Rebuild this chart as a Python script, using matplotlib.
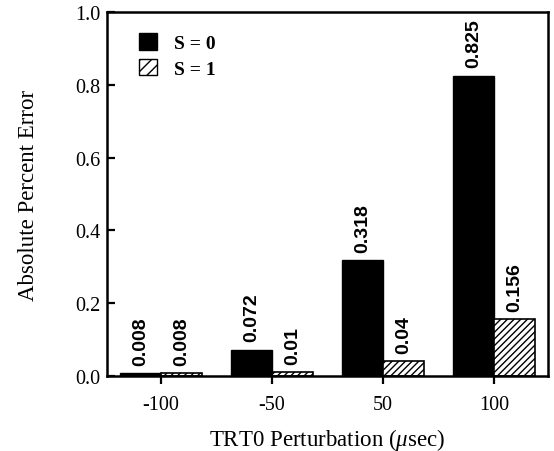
import matplotlib
matplotlib.use("Agg")
import matplotlib.pyplot as plt
import numpy as np
from matplotlib.patches import Patch

categories = ["-100", "-50", "50", "100"]
s0_values = [0.008, 0.072, 0.318, 0.825]
s1_values = [0.008, 0.01, 0.04, 0.156]
s0_labels = ["0.008", "0.072", "0.318", "0.825"]
s1_labels = ["0.008", "0.01", "0.04", "0.156"]

plt.rcParams["font.family"] = ["Liberation Serif", "DejaVu Serif"]
plt.rcParams["mathtext.fontset"] = "custom"
plt.rcParams["mathtext.it"] = "Liberation Serif:italic"
plt.rcParams["hatch.linewidth"] = 1.0

fig = plt.figure(figsize=(5.54, 4.52), dpi=100)
ax = fig.add_axes([107 / 554, 1 - 377 / 452, 441 / 554, 364 / 452])

x = np.arange(len(categories))
width = 0.37
bars0 = ax.bar(x - width / 2, s0_values, width, color="black", edgecolor="black")
bars1 = ax.bar(x + width / 2, s1_values, width, color="white", edgecolor="black",
               hatch="/////", linewidth=1.2)

# value labels, rotated, above each bar
label_font = {"family": ["Liberation Sans Narrow", "Liberation Sans"],
              "weight": "bold", "size": 14}
for bars, labels in ((bars0, s0_labels), (bars1, s1_labels)):
    for bar, lab in zip(bars, labels):
        ax.annotate(lab, (bar.get_x() + bar.get_width() / 2, bar.get_height()),
                    xytext=(0, 6), textcoords="offset points", rotation=90,
                    ha="center", va="bottom", **label_font)

ax.set_xlim(-0.486, 3.486)
ax.set_ylim(0, 1.0)
ax.set_xticks(x)
ax.set_xticklabels(categories)
ax.set_yticks([0.0, 0.2, 0.4, 0.6, 0.8, 1.0])
ax.set_yticklabels(["0.0", "0.2", "0.4", "0.6", "0.8", "1.0"])
ax.tick_params(axis="x", direction="out", length=6, width=1.6, pad=8,
               labelsize=14.5)
ax.tick_params(axis="y", direction="in", length=6, width=1.6, pad=5,
               labelsize=14.5)
for sp in ax.spines.values():
    sp.set_linewidth(1.8)

ax.set_xlabel("TRT0 Perturbation ($\\mu$sec)", fontsize=16.5, labelpad=8)
ax.set_ylabel("Absolute Percent Error", fontsize=16.5, labelpad=26)

handles = [Patch(facecolor="black", edgecolor="black", label="S = 0"),
           Patch(facecolor="white", edgecolor="black", hatch="///", label="S = 1")]
ax.legend(handles=handles, loc="upper left", bbox_to_anchor=(0.045, 0.975),
          frameon=False, prop={"weight": "bold", "size": 14},
          handlelength=0.95, handleheight=0.95, handletextpad=0.9,
          labelspacing=0.35, borderaxespad=0.2)

fig.savefig("out.png", dpi=100)
